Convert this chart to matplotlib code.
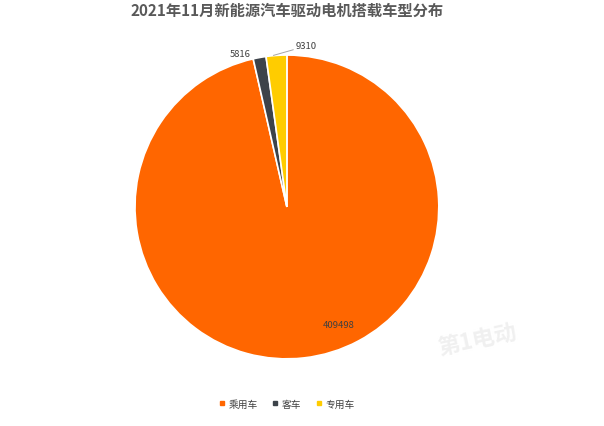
import numpy as np
import matplotlib

matplotlib.use("Agg")
import matplotlib.pyplot as plt
from matplotlib.lines import Line2D

plt.rcParams["font.family"] = ["Noto Sans CJK SC", "DejaVu Sans"]

# 数据
categories = ["乘用车", "客车", "专用车"]
values = [409498, 5816, 9310]
colors = ["#FF6600", "#3D434A", "#FFCC00"]
title = "2021年11月新能源汽车驱动电机搭载车型分布"

fig = plt.figure(figsize=(6.04, 4.27), dpi=100)
ax = fig.add_axes([0.2235, 0.157, 0.503, 0.712])

wedges, _ = ax.pie(values, colors=colors, startangle=90, counterclock=False,
                   wedgeprops=dict(edgecolor="white", linewidth=1.2))
ax.set_aspect("equal")
ax.set_xlim(-1, 1)
ax.set_ylim(-1, 1)

# 数据标签
for i, w in enumerate(wedges):
    mid = np.deg2rad((w.theta1 + w.theta2) / 2)
    x, y = np.cos(mid), np.sin(mid)
    if i == 0:
        ax.text(x + 0.23, y * 0.78, str(values[i]), ha="center", va="center",
                fontsize=6.8, color="#404040")
    elif i == 1:
        ax.text(x * 1.05 - 0.12, y * 1.03, str(values[i]), ha="center",
                va="center", fontsize=6.8, color="#404040")
    else:
        ax.annotate(str(values[i]), xy=(x - 0.02, y), xytext=(0.13, 1.06),
                    ha="center", va="center", fontsize=6.8, color="#404040",
                    arrowprops=dict(arrowstyle="-", color="#A6A6A6", lw=0.7,
                                    shrinkA=0, shrinkB=0))

fig.text(0.475, 0.975, title, ha="center", va="center", fontsize=11,
         fontweight="bold", color="#595959")

handles = [Line2D([0], [0], marker="s", linestyle="", markersize=3,
                  markerfacecolor=c, markeredgecolor=c) for c in colors]
fig.legend(handles, categories, loc="center", bbox_to_anchor=(0.475, 0.052),
           ncol=3, frameon=False, fontsize=7, handlelength=0.6,
           handletextpad=0.4, columnspacing=1.5, labelcolor="#404040")

# 水印
fig.text(0.79, 0.2, "第1电动", fontsize=16, color="#F0F0F0", rotation=12,
         ha="center", va="center", fontweight="bold")

fig.savefig("out.png", dpi=100)
